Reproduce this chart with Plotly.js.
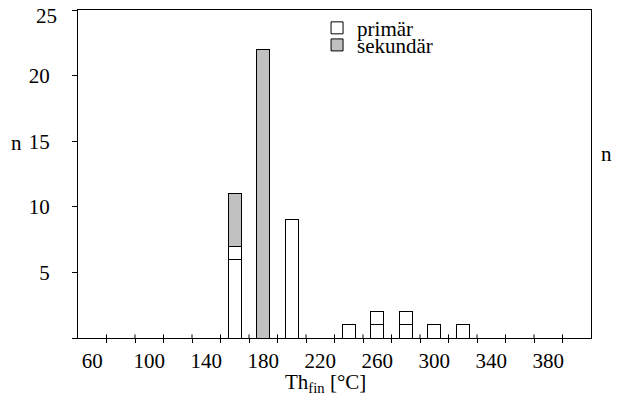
<!DOCTYPE html>
<html>
<head>
<meta charset="utf-8">
<script src="https://cdn.plot.ly/plotly-3.0.1.min.js"></script>
<style>html,body{margin:0;padding:0;background:#fff;}#chart{width:618px;height:403px;}</style>
</head>
<body>
<div id="chart"></div>
<script>
// Bin centres (°C) and counts
const bins = [160, 180, 200, 240, 260, 280, 300, 320];
const primarA = [6, null, 9, 1, 1, 1, 1, 1];
const primarB = [1, null, null, null, 1, 1, null, null];
const sekundar = [4, 22, null, null, null, null, null, null];
const xTickVals = [60, 100, 140, 180, 220, 260, 300, 340, 380];
const xTickText = ['60', '100', '140', '180', '220', '260', '300', '340', '380'];
const xMinorVals = [70, 90, 110, 130, 150, 170, 190, 210, 230, 250, 270, 290, 310, 330, 350, 370, 390];
const yTickVals = [0, 5, 10, 15, 20, 25];
const yTickText = [' ', '5', '10', '15', '20', ' '];
const yTopLabel = '25';

const FONT = 'Liberation Serif, Times New Roman, serif';
const barLine = {color: '#000', width: 1};

const traces = [
  {type: 'bar', name: 'primär', x: bins, y: primarA, width: 9.4,
   marker: {color: '#ffffff', line: barLine}, legend: 'legend', showlegend: true},
  {type: 'bar', name: 'primär', x: bins, y: primarB, width: 9.4,
   marker: {color: '#ffffff', line: barLine}, showlegend: false},
  {type: 'bar', name: 'sekundär', x: bins, y: sekundar, width: 9.4,
   marker: {color: '#c0c0c0', line: barLine}, legend: 'legend2', showlegend: true}
];

// inner half of the x-axis tick marks (ticks cross the axis line)
const innerTicks = xMinorVals.map(v => ({
  type: 'line', xref: 'x', yref: 'y domain', x0: v, x1: v, y0: 0, y1: 0.011,
  line: {color: '#000', width: 1}, layer: 'above'
}));

const layout = {
  width: 618, height: 403,
  margin: {l: 78, r: 27, t: 10, b: 65, autoexpand: false},
  paper_bgcolor: '#fff', plot_bgcolor: '#fff',
  font: {family: FONT, size: 21, color: '#000'},
  barmode: 'stack',
  xaxis: {
    range: [50, 410], showgrid: false, zeroline: false,
    showline: true, linecolor: '#000', linewidth: 1, mirror: true,
    tickmode: 'array', tickvals: xTickVals, ticktext: xTickText, ticks: '',
    ticklabelstandoff: 4, automargin: false,
    minor: {tickmode: 'array', tickvals: xMinorVals, ticks: 'outside', ticklen: 4, tickcolor: '#000', tickwidth: 1, showgrid: false},
    tickfont: {family: FONT, size: 21, color: '#000'}
  },
  yaxis: {
    range: [0, 25], showgrid: false, zeroline: false,
    showline: true, linecolor: '#000', linewidth: 1, mirror: true,
    tickmode: 'array', tickvals: yTickVals, ticktext: yTickText,
    ticks: 'outside', ticklen: 5, tickcolor: '#000', tickwidth: 1,
    ticklabelstandoff: 18, automargin: false, ticklabeloverflow: 'allow',
    tickfont: {family: FONT, size: 21, color: '#000'}
  },
  shapes: innerTicks,
  legend: {x: 0.466, y: 1.007, xanchor: 'left', yanchor: 'top', bgcolor: 'rgba(0,0,0,0)',
           font: {family: FONT, size: 21, color: '#000'}, borderwidth: 0},
  legend2: {x: 0.466, y: 0.955, xanchor: 'left', yanchor: 'top', bgcolor: 'rgba(0,0,0,0)',
           font: {family: FONT, size: 21, color: '#000'}, borderwidth: 0},
  annotations: [
    {text: yTopLabel, xref: 'paper', yref: 'paper', x: -0.037, y: 0.981,
     xanchor: 'right', yanchor: 'middle', showarrow: false, font: {family: FONT, size: 21, color: '#000'}},
    {text: 'Th<sub>fin</sub> [°C]', xref: 'paper', yref: 'paper', x: 0.483, y: -0.138,
     xanchor: 'center', yanchor: 'middle', showarrow: false, font: {family: FONT, size: 21, color: '#000'}},
    {text: 'n', xref: 'paper', yref: 'paper', x: -0.119, y: 0.594,
     xanchor: 'center', yanchor: 'middle', showarrow: false, font: {family: FONT, size: 21, color: '#000'}},
    {text: 'n', xref: 'paper', yref: 'paper', x: 1.031, y: 0.56,
     xanchor: 'center', yanchor: 'middle', showarrow: false, font: {family: FONT, size: 21, color: '#000'}}
  ]
};

Plotly.newPlot('chart', traces, layout, {displayModeBar: false, staticPlot: true});
</script>
</body>
</html>
